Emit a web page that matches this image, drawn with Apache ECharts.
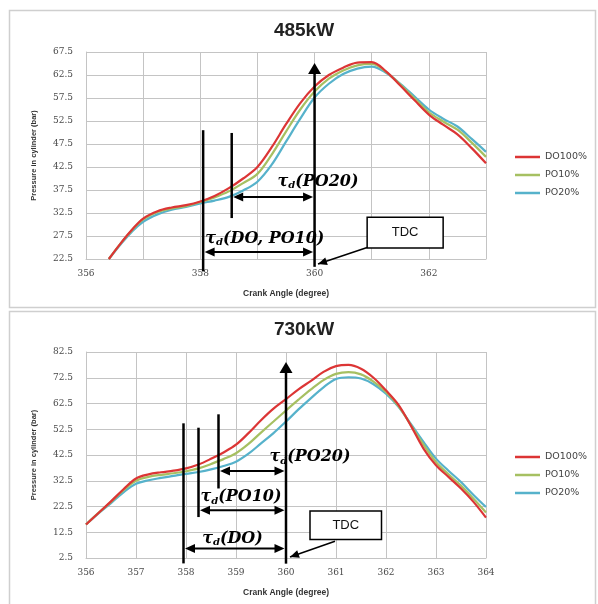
<!DOCTYPE html>
<html><head><meta charset="utf-8">
<script src="https://cdn.jsdelivr.net/npm/echarts@6/dist/echarts.min.js"></script>
<style>html,body{margin:0;padding:0;background:#fff}#c{width:598px;height:604px}</style>
</head><body><div id="c"></div>
<script>
// ---------- data ----------
const seriesNames = ['DO100%', 'PO10%', 'PO20%'];
const xTicks485 = [356, 358, 360, 362];

const angles485 = [356.4, 356.6, 356.8, 357, 357.25, 357.5, 357.75, 358, 358.25, 358.5, 358.75, 359, 359.25, 359.5, 359.75, 360, 360.25, 360.5, 360.75, 361, 361.25, 361.5, 361.75, 362, 362.25, 362.5, 362.75, 363];
const do100_485 = [22.5, 25.8, 28.8, 31.3, 32.9, 33.7, 34.2, 35.0, 36.2, 37.9, 40.0, 42.5, 46.8, 51.8, 56.4, 60.0, 62.5, 64.1, 65.2, 65.3, 63.3, 60.2, 57.0, 53.9, 51.7, 49.6, 46.6, 43.3];
const po10_485 = [22.5, 25.8, 28.7, 31.1, 32.7, 33.5, 34.0, 34.9, 35.9, 37.2, 39.0, 41.0, 45.2, 50.2, 55.0, 58.9, 61.7, 63.5, 64.6, 64.9, 63.2, 60.4, 57.4, 54.4, 52.4, 50.6, 47.8, 44.7];
const po20_485 = [22.5, 25.6, 28.4, 30.6, 32.2, 33.2, 33.8, 34.6, 35.2, 36.0, 37.4, 39.3, 43.0, 48.0, 53.0, 57.6, 60.6, 62.7, 63.9, 64.3, 63.0, 60.6, 57.8, 55.0, 53.0, 51.3, 48.6, 45.8];

const angles730 = [356, 356.25, 356.5, 356.75, 357, 357.25, 357.5, 357.75, 358, 358.25, 358.5, 358.75, 359, 359.25, 359.5, 359.75, 360, 360.25, 360.5, 360.75, 361, 361.25, 361.5, 361.75, 362, 362.25, 362.5, 362.75, 363, 363.25, 363.5, 363.75, 364];
const do100_730 = [15.5, 20.0, 24.5, 29.2, 33.4, 35.0, 35.8, 36.4, 37.3, 38.8, 41.0, 43.5, 46.5, 51.0, 56.0, 60.5, 64.2, 68.0, 71.3, 74.8, 77.0, 77.5, 76.0, 72.5, 67.6, 62.0, 53.8, 45.0, 38.5, 34.0, 29.5, 24.3, 18.2];
const po10_730 = [15.5, 20.0, 24.3, 28.8, 32.5, 34.0, 34.8, 35.4, 36.2, 37.3, 39.0, 40.9, 43.2, 46.8, 51.2, 55.5, 59.8, 64.0, 68.0, 71.6, 74.0, 74.7, 73.8, 71.0, 67.0, 61.5, 54.0, 46.5, 39.8, 35.0, 30.6, 25.5, 20.2];
const po20_730 = [15.5, 19.8, 23.8, 28.0, 31.3, 32.7, 33.6, 34.4, 35.2, 35.9, 36.9, 38.2, 39.9, 43.0, 47.0, 51.0, 55.5, 60.2, 64.6, 68.8, 72.0, 72.7, 72.2, 70.0, 66.3, 61.2, 54.5, 47.6, 41.1, 36.4, 32.0, 27.0, 22.3];

// ignition-delay annotation values (crank angle)
const tdc = 360;
const ignStart485 = { 'DO, PO10': 358.05, 'PO20': 358.55 };
const ignStart730 = { 'DO': 357.95, 'PO10': 358.25, 'PO20': 358.65 };

// ---------- styling ----------
const colors = ['#dc3535', '#a6c062', '#56b2cb'];
const gridColor = '#c4c4c4';
const labelFont = 'DejaVu Serif';

function pairs(xs, ys) { return xs.map((x, i) => [x, ys[i]]); }

function lineSeries(gi, xs, arrs) {
  return arrs.map((a, k) => ({
    name: seriesNames[k], type: 'line', xAxisIndex: gi, yAxisIndex: gi,
    data: pairs(xs, a), smooth: 0.35, symbol: 'none', showSymbol: false, clip: true,
    lineStyle: { width: 2.2, color: colors[k] }, itemStyle: { color: colors[k] }, z: 3 + (2 - k)
  }));
}

function tauRich() {
  const base = { fontFamily: labelFont, fontWeight: 'bold', fontStyle: 'italic', fill: '#000', color: '#000' };
  return {
    t: Object.assign({}, base, { fontSize: 16 }),
    s: Object.assign({}, base, { fontSize: 10, padding: [8, 0, 0, 0] }),
    n: Object.assign({}, base, { fontSize: 16 })
  };
}

function arrowHead(tip, from, len, half) {
  const dx = tip[0] - from[0], dy = tip[1] - from[1];
  const L = Math.hypot(dx, dy) || 1, ux = dx / L, uy = dy / L;
  const bx = tip[0] - ux * len, by = tip[1] - uy * len;
  return { type: 'polygon', shape: { points: [tip, [bx - uy * half, by + ux * half], [bx + uy * half, by - ux * half]] }, style: { fill: '#000' } };
}

function annotSeries(gi, ann) {
  return {
    type: 'custom', name: 'annot' + gi, xAxisIndex: gi, yAxisIndex: gi, coordinateSystem: 'cartesian2d',
    clip: false, silent: true, z: 20, data: [[tdc, ann.tdcArrow[1]]],
    renderItem: function (params, api) {
      const c = p => api.coord(p);
      const kids = [];
      const st = { stroke: '#000', lineWidth: 2.5 };
      ann.vlines.forEach(v => {
        const a = c([v[0], v[1]]), b = c([v[0], v[2]]);
        kids.push({ type: 'line', shape: { x1: a[0], y1: a[1], x2: b[0], y2: b[1] }, style: st });
      });
      // vertical TDC arrow
      const va = c([tdc, ann.tdcArrow[0]]), vb = c([tdc, ann.tdcArrow[1]]);
      kids.push({ type: 'line', shape: { x1: va[0], y1: va[1], x2: vb[0], y2: vb[1] + 6 }, style: st });
      kids.push(arrowHead(vb, va, 11, 6.5));
      // spans
      ann.spans.forEach(s => {
        const a = c([s.x1, s.y]), b = c([tdc, s.y]);
        a[0] += 1.5; b[0] -= 1.5;
        kids.push({ type: 'line', shape: { x1: a[0] + 6, y1: a[1], x2: b[0] - 6, y2: b[1] }, style: { stroke: '#000', lineWidth: 2 } });
        kids.push(arrowHead(a, b, 10, 4.5));
        kids.push(arrowHead(b, a, 10, 4.5));
        const l = c([s.lx, s.ly]);
        kids.push({ type: 'text', x: l[0], y: l[1], style: { text: '{t|τ}{s|d}{n|(' + s.label + ')}', rich: tauRich(), align: 'center', verticalAlign: 'middle' } });
      });
      // TDC box + pointer
      const p1 = c([ann.box[0], ann.box[2]]), p2 = c([ann.box[1], ann.box[3]]);
      kids.push({ type: 'rect', shape: { x: p1[0], y: p1[1], width: p2[0] - p1[0], height: p2[1] - p1[1] }, style: { fill: '#fff', stroke: '#000', lineWidth: 1.5 } });
      kids.push({ type: 'text', x: (p1[0] + p2[0]) / 2, y: (p1[1] + p2[1]) / 2, style: { text: 'TDC', font: '13px "Liberation Sans"', fill: '#111', align: 'center', verticalAlign: 'middle' } });
      const pa = c(ann.pointer[0]), pb = c(ann.pointer[1]);
      kids.push({ type: 'line', shape: { x1: pa[0], y1: pa[1], x2: pb[0], y2: pb[1] }, style: { stroke: '#000', lineWidth: 1.5 } });
      kids.push(arrowHead(pb, pa, 9, 4));
      return { type: 'group', children: kids };
    }
  };
}

const ann485 = {
  vlines: [[ignStart485['DO, PO10'], 19.8, 50.5], [ignStart485['PO20'], 31.4, 49.9]],
  tdcArrow: [20.8, 65.1],
  spans: [
    { x1: ignStart485['PO20'], y: 36.0, label: 'PO20', lx: 360.06, ly: 39.3 },
    { x1: ignStart485['DO, PO10'], y: 24.0, label: 'DO, PO10', lx: 359.13, ly: 26.9 }
  ],
  box: [360.92, 362.25, 31.6, 24.9],
  pointer: [[360.92, 25.0], [360.06, 21.4]]
};
const ann730 = {
  vlines: [[ignStart730['DO'], 0.4, 54.8], [ignStart730['PO10'], 18.4, 53.1], [ignStart730['PO20'], 29.5, 58.3]],
  tdcArrow: [0.3, 78.6],
  spans: [
    { x1: ignStart730['PO20'], y: 36.3, label: 'PO20', lx: 360.48, ly: 41.7 },
    { x1: ignStart730['PO10'], y: 21.0, label: 'PO10', lx: 359.1, ly: 26.2 },
    { x1: ignStart730['DO'], y: 6.15, label: 'DO', lx: 358.93, ly: 10.0 }
  ],
  box: [360.48, 361.91, 20.75, 9.65],
  pointer: [[360.98, 9.0], [360.08, 2.9]]
};

const axisLabel = { color: '#4a4a4a', fontFamily: labelFont, fontSize: 9 };
const split = { show: true, lineStyle: { color: gridColor, width: 1 } };
const axLine = { show: true, lineStyle: { color: gridColor, width: 1 } };
const nameStyle = { color: '#333', fontFamily: 'Liberation Sans', fontWeight: 'bold' };

function legendAt(top) {
  return {
    data: seriesNames, left: 515, top: top, padding: 0, orient: 'vertical', itemWidth: 25, itemHeight: 2.5, itemGap: 6,
    icon: 'rect', selectedMode: false,
    textStyle: { color: '#444', fontFamily: 'DejaVu Sans', fontSize: 9.5, lineHeight: 12 }
  };
}

const option = {
  backgroundColor: '#fff',
  animation: false,
  grid: [
    { left: 86, top: 52, width: 400, height: 207 },
    { left: 86, top: 352, width: 400, height: 206 }
  ],
  xAxis: [
    { gridIndex: 0, type: 'value', min: 356, max: 363, interval: 1,
      axisLabel: Object.assign({}, axisLabel, { margin: 10, formatter: v => (xTicks485.indexOf(v) >= 0 ? String(v) : '') }),
      axisTick: { show: false }, axisLine: axLine, splitLine: split,
      name: 'Crank Angle (degree)', nameLocation: 'middle', nameGap: 30, nameTextStyle: Object.assign({}, nameStyle, { fontSize: 8.5 }) },
    { gridIndex: 1, type: 'value', min: 356, max: 364, interval: 1,
      axisLabel: Object.assign({}, axisLabel, { margin: 10 }),
      axisTick: { show: false }, axisLine: axLine, splitLine: split,
      name: 'Crank Angle (degree)', nameLocation: 'middle', nameGap: 30, nameTextStyle: Object.assign({}, nameStyle, { fontSize: 8.5 }) }
  ],
  yAxis: [
    { gridIndex: 0, type: 'value', min: 22.5, max: 67.5, interval: 5,
      axisLabel: Object.assign({}, axisLabel, { margin: 13, formatter: v => v.toFixed(1) }),
      axisTick: { show: false }, axisLine: axLine, splitLine: split,
      name: 'Pressure in cylinder (bar)', nameLocation: 'middle', nameGap: 48, nameTextStyle: Object.assign({}, nameStyle, { fontSize: 7.5 }) },
    { gridIndex: 1, type: 'value', min: 2.5, max: 82.5, interval: 10,
      axisLabel: Object.assign({}, axisLabel, { margin: 13, formatter: v => v.toFixed(1) }),
      axisTick: { show: false }, axisLine: axLine, splitLine: split,
      name: 'Pressure in cylinder (bar)', nameLocation: 'middle', nameGap: 48, nameTextStyle: Object.assign({}, nameStyle, { fontSize: 7.5 }) }
  ],
  legend: [legendAt(151), legendAt(451)],
  graphic: [
    { type: 'rect', shape: { x: 9.5, y: 10.5, width: 586, height: 297 }, style: { fill: 'none', stroke: '#cfcfcf', lineWidth: 1.5 }, silent: true },
    { type: 'rect', shape: { x: 9.5, y: 311.5, width: 586, height: 300 }, style: { fill: 'none', stroke: '#cfcfcf', lineWidth: 1.5 }, silent: true },
    { type: 'text', x: 304, y: 31, style: { text: '485kW', font: 'bold 19px "Liberation Sans"', fill: '#222', align: 'center', verticalAlign: 'middle' } },
    { type: 'text', x: 304, y: 330, style: { text: '730kW', font: 'bold 19px "Liberation Sans"', fill: '#222', align: 'center', verticalAlign: 'middle' } }
  ],
  series: [].concat(
    lineSeries(0, angles485, [do100_485, po10_485, po20_485]),
    lineSeries(1, angles730, [do100_730, po10_730, po20_730]),
    [annotSeries(0, ann485), annotSeries(1, ann730)]
  )
};

const chart = echarts.init(document.getElementById('c'), null, { renderer: 'canvas' });
chart.setOption(option);
</script></body></html>
